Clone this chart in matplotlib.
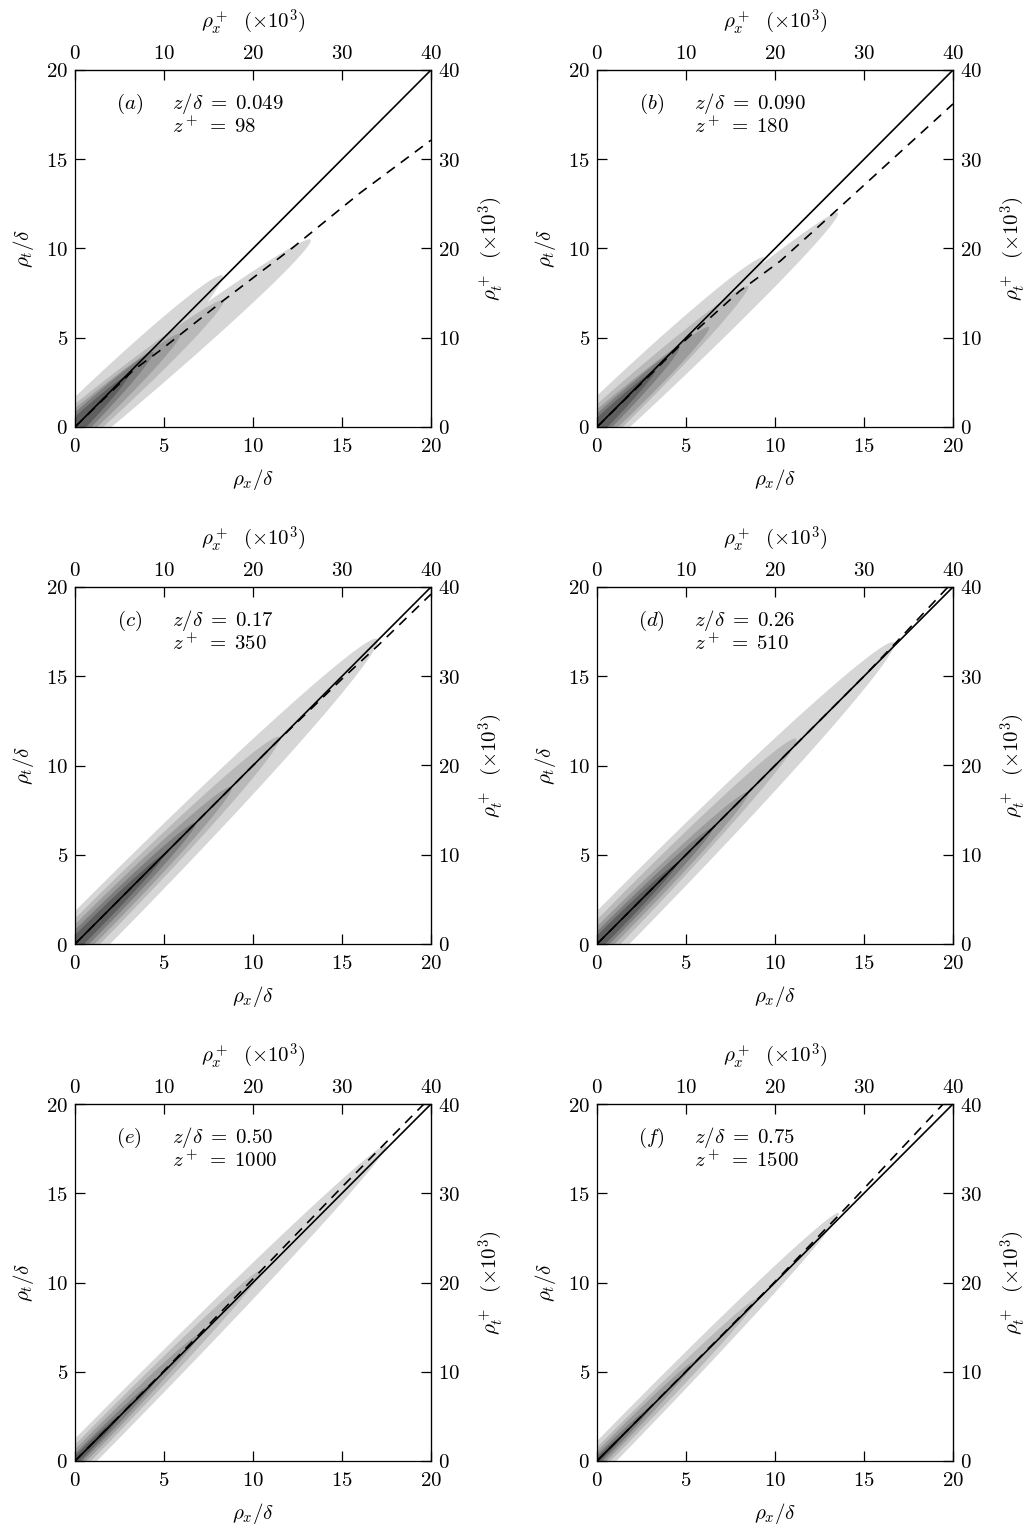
import numpy as np
import matplotlib
matplotlib.use("Agg")
import matplotlib.pyplot as plt
from matplotlib.ticker import FuncFormatter

plt.rcParams["mathtext.fontset"] = "cm"
plt.rcParams["font.family"] = "serif"
plt.rcParams["font.size"] = 15

# ── Panel annotations ─────────────────────────────────────────────────────
panel_tags = ["a", "b", "c", "d", "e", "f"]
z_delta = ["0.049", "0.090", "0.17", "0.26", "0.50", "0.75"]
z_plus = ["98", "180", "350", "510", "1000", "1500"]

# grey shade for each correlation contour level (lightest = outermost)
level_grays = ["#d6d6d6", "#b9b9b9", "#9c9c9c", "#7d7d7d", "#5f5f5f"]

# contour lobes: (level, tip rho_x/delta, tip rho_t/delta, half-width above, half-width below)
lobes_a = [(0, 13.25, 10.5, 1.25, 1.3), (0, 8.3, 8.5, 1.2, 1.1),
           (1, 8.35, 7.1, 1.0, 1.05), (2, 5.9, 5.2, 0.8, 0.85),
           (3, 4.4, 4.2, 0.6, 0.65), (4, 3.0, 2.9, 0.42, 0.45)]
lobes_b = [(0, 13.55, 12.0, 1.2, 1.25), (0, 9.4, 9.5, 1.25, 1.1),
           (1, 8.5, 7.9, 0.95, 1.0), (2, 6.3, 5.6, 0.75, 0.8),
           (3, 4.6, 4.4, 0.55, 0.6), (4, 3.3, 3.2, 0.38, 0.42)]
lobes_c = [(0, 17.0, 17.1, 1.3, 1.4), (1, 11.5, 11.6, 1.0, 1.0),
           (2, 8.8, 8.8, 0.78, 0.78), (3, 6.8, 6.8, 0.56, 0.56),
           (4, 5.0, 5.0, 0.36, 0.36)]
lobes_d = [(0, 16.7, 16.9, 1.3, 1.3), (1, 11.2, 11.5, 0.95, 0.95),
           (2, 8.5, 8.5, 0.7, 0.7), (3, 6.5, 6.5, 0.5, 0.5),
           (4, 4.5, 4.5, 0.33, 0.33)]
lobes_e = [(0, 17.5, 17.7, 0.88, 0.88), (1, 10.5, 10.7, 0.64, 0.64),
           (2, 7.0, 7.1, 0.46, 0.46), (3, 4.5, 4.5, 0.3, 0.3),
           (4, 2.5, 2.5, 0.2, 0.2)]
lobes_f = [(0, 13.6, 13.9, 0.78, 0.78), (1, 9.0, 9.1, 0.54, 0.54),
           (2, 5.5, 5.6, 0.38, 0.38), (3, 3.0, 3.0, 0.24, 0.24),
           (4, 1.5, 1.5, 0.14, 0.14)]

# taper shape of the contours, per panel: (q, p) in w * (1 - t**q)**p
taper = [(1.4, 0.55), (1.4, 0.55), (2.0, 0.5), (2.0, 0.5), (2.0, 0.5), (2.0, 0.5)]

# ridge of maximum correlation (dashed)
ridge_a_x = [0, 3.3, 4.8, 8.35, 12.3, 16.0, 20.0]
ridge_a_y = [0, 3.2, 4.3, 7.1, 10.1, 13.1, 16.07]
ridge_b_x = [0, 5.0, 8.0, 10.3, 13.3, 20.0]
ridge_b_y = [0, 4.9, 7.6, 9.3, 12.0, 18.1]
ridge_c_x = [0, 11.0, 15.0, 17.0, 20.0]
ridge_c_y = [0, 11.0, 14.85, 16.7, 19.6]
ridge_d_x = [0, 15.0, 17.0, 20.0]
ridge_d_y = [0, 15.0, 17.1, 20.3]
ridge_e_x = [0, 5.0, 10.0, 15.0, 19.6]
ridge_e_y = [0, 5.05, 10.2, 15.35, 20.0]
ridge_f_x = [0, 10.0, 14.0, 19.45]
ridge_f_y = [0, 10.05, 14.2, 20.0]

lobes_all = [lobes_a, lobes_b, lobes_c, lobes_d, lobes_e, lobes_f]
ridges = [(ridge_a_x, ridge_a_y), (ridge_b_x, ridge_b_y), (ridge_c_x, ridge_c_y),
          (ridge_d_x, ridge_d_y), (ridge_e_x, ridge_e_y), (ridge_f_x, ridge_f_y)]

RE_TAU = 2.0  # rho^+ (x10^3) per rho/delta
FS = 15


def lobe_polygon(tx, ty, wu, wl, q, p, tail=4.0, n=240):
    """Cigar-shaped contour running from behind the origin to the tip (tx, ty)."""
    L = np.hypot(tx, ty)
    u = np.array([tx, ty]) / L
    nv = np.array([-u[1], u[0]])
    s = np.linspace(-tail, L, n)
    t = np.clip(s / L, 0, 1)
    prof = (1 - t ** q) ** p
    up = s[:, None] * u + (wu * prof)[:, None] * nv
    lo = s[:, None] * u - (wl * prof)[:, None] * nv
    pts = np.vstack([up, lo[::-1]])
    return pts[:, 0], pts[:, 1]


math_fmt = FuncFormatter(lambda v, pos: f"${v:g}$")

fig = plt.figure(figsize=(10.27, 15.29), dpi=100)
W, H = 1027, 1529
col_left = [75, 597]
row_bottom = [427, 944, 1461]
size_w, size_h = 356, 357

for i, tag in enumerate(panel_tags):
    r, c = divmod(i, 2)
    rect = [col_left[c] / W, (H - row_bottom[r]) / H, size_w / W, size_h / H]
    ax = fig.add_axes(rect)
    q, p = taper[i]
    for lvl in range(len(level_grays)):
        for (lv, tx, ty, wu, wl) in lobes_all[i]:
            if lv != lvl:
                continue
            xs, ys = lobe_polygon(tx, ty, wu, wl, q, p)
            ax.fill(xs, ys, color=level_grays[lvl], lw=0, zorder=1)

    ax.plot([0, 20], [0, 20], color="black", lw=1.2, zorder=3)
    rx, ry = ridges[i]
    ax.plot(rx, ry, color="black", lw=1.2, dashes=(6, 4.5), zorder=3)

    ax.set_xlim(0, 20)
    ax.set_ylim(0, 20)
    ax.set_xticks([0, 5, 10, 15, 20])
    ax.set_yticks([0, 5, 10, 15, 20])
    ax.xaxis.set_major_formatter(math_fmt)
    ax.yaxis.set_major_formatter(math_fmt)
    ax.tick_params(direction="in", length=7, width=0.9, labelsize=FS, pad=5)
    ax.tick_params(axis="x", pad=7)
    for sp in ax.spines.values():
        sp.set_linewidth(0.9)
    ax.set_xlabel(r"$\rho_x/\delta$", fontsize=FS, labelpad=8)
    ax.set_ylabel(r"$\rho_t/\delta$", fontsize=FS, labelpad=7)

    top = ax.secondary_xaxis("top", functions=(lambda v: v * RE_TAU, lambda v: v / RE_TAU))
    top.set_xticks([0, 10, 20, 30, 40])
    top.xaxis.set_major_formatter(math_fmt)
    top.tick_params(direction="in", length=7, width=0.9, labelsize=FS, pad=5)
    top.set_xlabel(r"$\rho_x^+\ \ (\times 10^3)$", fontsize=FS, labelpad=12)

    right = ax.secondary_yaxis("right", functions=(lambda v: v * RE_TAU, lambda v: v / RE_TAU))
    right.set_yticks([0, 10, 20, 30, 40])
    right.yaxis.set_major_formatter(math_fmt)
    right.tick_params(direction="in", length=7, width=0.9, labelsize=FS, pad=5)
    right.set_ylabel(r"$\rho_t^+\ \ (\times 10^3)$", fontsize=FS, labelpad=12)

    ax.text(3.05, 18.1, f"$({tag})$", fontsize=FS, ha="center", va="center")
    ax.text(5.45, 18.1, rf"$z/\delta\;=\;{z_delta[i]}$", fontsize=FS, ha="left", va="center")
    ax.text(5.45, 16.85, rf"$z^+\;=\;{z_plus[i]}$", fontsize=FS, ha="left", va="center")

fig.savefig("out.png", dpi=100)
